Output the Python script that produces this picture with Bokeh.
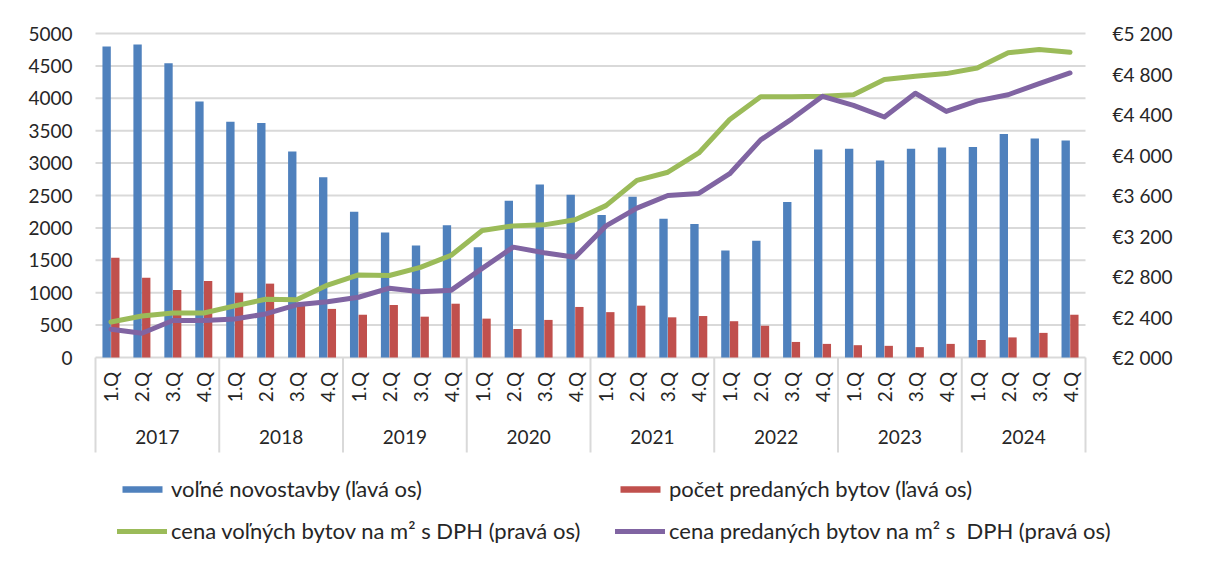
import numpy as np
from bokeh.plotting import figure
from bokeh.models import (Range1d, LinearAxis, FixedTicker, Legend, LegendItem,
                          ColumnDataSource)
from bokeh.transform import dodge
from bokeh.core.properties import value
from bokeh.embed import file_html
from bokeh.resources import INLINE

# ---------------- data ----------------
years = ["2017", "2018", "2019", "2020", "2021", "2022", "2023", "2024"]
quarters = ["1.Q", "2.Q", "3.Q", "4.Q"]

volne_novostavby = [4800, 4830, 4540, 3950, 3640, 3620, 3180, 2780,
                    2250, 1930, 1730, 2040, 1700, 2420, 2670, 2510,
                    2200, 2480, 2140, 2060, 1650, 1800, 2400, 3210,
                    3220, 3040, 3220, 3240, 3250, 3450, 3380, 3350]
predane_byty = [1540, 1230, 1040, 1180, 1000, 1140, 820, 750,
                660, 810, 630, 830, 600, 440, 580, 780,
                700, 800, 620, 640, 560, 490, 240, 210,
                190, 180, 160, 210, 270, 310, 380, 660]
cena_volnych = [2350, 2410, 2440, 2440, 2510, 2575, 2570, 2715,
                2815, 2810, 2890, 3010, 3255, 3300, 3310, 3360,
                3500, 3750, 3830, 4020, 4350, 4575, 4575, 4580,
                4595, 4745, 4778, 4804, 4860, 5010, 5042, 5015]
cena_predanych = [2280, 2240, 2365, 2365, 2380, 2430, 2520, 2550,
                  2595, 2685, 2650, 2665, 2880, 3090, 3035, 2990,
                  3300, 3475, 3600, 3620, 3815, 4150, 4355, 4580,
                  4490, 4375, 4610, 4430, 4535, 4595, 4705, 4810]

left_ticks = list(range(0, 5001, 500))
right_ticks = list(range(2000, 5201, 400))

series_labels = ["voľné novostavby (ľavá os)",
                 "počet predaných bytov (ľavá os)",
                 "cena voľných bytov na m² s DPH (pravá os)",
                 "cena predaných bytov na m² s  DPH (pravá os)"]

# ---------------- styling ----------------
BLUE = "#4f81bd"
RED = "#c0504d"
GREEN = "#9bbb59"
PURPLE = "#8064a2"
GRID = "#d9d9d9"
TEXT = "#262626"
FONT = "Lato"
FS = "19px"
LFS = "22px"

n = len(years) * len(quarters)
x = np.arange(n) + 0.5
qlabels = [q for _ in years for q in quarters]

# ---------------- geometry (screen pixels of the figure) ----------------
W, H = 1190, 552
PX_LEFT, PX_RIGHT = 95, 1085          # where category 0 and n sit
PX_TOP, PX_ZERO = 33, 357             # where 5000 and 0 sit
xpu = (PX_RIGHT - PX_LEFT) / n
x_start = -PX_LEFT / xpu
x_end = n + (W - PX_RIGHT) / xpu
upp = 5000.0 / (PX_ZERO - PX_TOP)     # left units per pixel
y_end = 5000.0 + PX_TOP * upp
y_start = 5000.0 - (H - PX_TOP) * upp
r_upp = 3200.0 / (PX_ZERO - PX_TOP)
r_end = 5200.0 + PX_TOP * r_upp
r_start = 5200.0 - (H - PX_TOP) * r_upp

p = figure(width=W, height=H, output_backend="svg", toolbar_location=None,
           x_range=Range1d(x_start, x_end), y_range=Range1d(y_start, y_end),
           x_axis_location=None, y_axis_location=None,
           min_border=0, min_border_left=0, min_border_right=0,
           min_border_top=0, min_border_bottom=0)
p.outline_line_color = None
p.background_fill_color = "white"
p.border_fill_color = "white"
p.grid.visible = False

p.extra_y_ranges = {"price": Range1d(r_start, r_end)}

la = LinearAxis(ticker=FixedTicker(ticks=left_ticks), bounds=(0, 5000),
                fixed_location=0)
la.major_label_overrides = {t: str(t) for t in left_ticks}
p.add_layout(la, "left")
ra = LinearAxis(y_range_name="price", ticker=FixedTicker(ticks=right_ticks),
                bounds=(2000, 5200), fixed_location=n)
ra.major_label_overrides = {t: "€" + f"{t:,}".replace(",", " ") for t in right_ticks}
p.add_layout(ra, "right")

for ax, standoff in ((la, 23), (ra, 27)):
    ax.axis_line_color = None
    ax.major_tick_line_color = None
    ax.minor_tick_line_color = None
    ax.major_tick_out = 0
    ax.major_tick_in = 0
    ax.major_label_standoff = standoff
    ax.major_label_text_font = FONT
    ax.major_label_text_font_size = FS
    ax.major_label_text_color = TEXT

# horizontal gridlines at the left-axis ticks, across the category span
p.segment(x0=[0] * len(left_ticks), x1=[n] * len(left_ticks),
          y0=left_ticks, y1=left_ticks, line_color=GRID, line_width=2)

src = ColumnDataSource(dict(x=x, volne=volne_novostavby, predane=predane_byty,
                            cv=cena_volnych, cp=cena_predanych, q=qlabels))

r_blue = p.vbar(x=dodge("x", -0.14), top="volne", bottom=0, width=0.27,
                source=src, fill_color=BLUE, line_color=None)
r_red = p.vbar(x=dodge("x", 0.14), top="predane", bottom=0, width=0.27,
               source=src, fill_color=RED, line_color=None)
r_green = p.line("x", "cv", source=src, y_range_name="price", line_color=GREEN,
                 line_width=5, line_join="round", line_cap="round")
r_purple = p.line("x", "cp", source=src, y_range_name="price", line_color=PURPLE,
                  line_width=5, line_join="round", line_cap="round")

# category axis: quarter labels, year labels and year separators
p.text(x="x", y=-29.5 * upp, text="q", source=src, angle=np.pi / 2,
       text_align="center", text_baseline="middle",
       text_font=value(FONT), text_font_size=FS, text_color=TEXT)
year_x = [i * len(quarters) + len(quarters) / 2 for i in range(len(years))]
p.text(x=year_x, y=[-79.5 * upp] * len(years), text=years,
       text_align="center", text_baseline="middle",
       text_font=value(FONT), text_font_size=FS, text_color=TEXT)
sep_x = [i * len(quarters) for i in range(len(years) + 1)]
p.segment(x0=sep_x, x1=sep_x, y0=[0] * len(sep_x), y1=[-95 * upp] * len(sep_x),
          line_color=GRID, line_width=2)

legend = Legend(items=[LegendItem(label=series_labels[0], renderers=[r_blue]),
                       LegendItem(label=series_labels[1], renderers=[r_red]),
                       LegendItem(label=series_labels[2], renderers=[r_green]),
                       LegendItem(label=series_labels[3], renderers=[r_purple])],
                orientation="horizontal", ncols=2,
                location=(117, 8), padding=0, margin=0, spacing=15,
                glyph_width=50, glyph_height=8, label_standoff=4,
                label_height=27, label_width=429,
                label_text_font=FONT, label_text_font_size=LFS,
                label_text_color=TEXT,
                border_line_color=None, background_fill_alpha=0)
p.add_layout(legend, "center")

open("out.html", "w").write(file_html(p, INLINE))
